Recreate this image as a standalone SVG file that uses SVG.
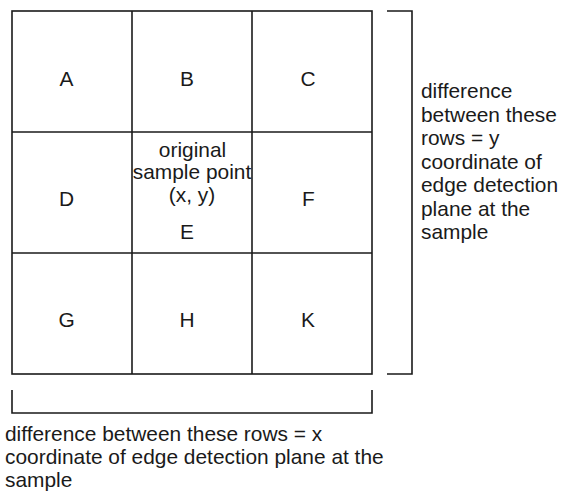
<svg xmlns="http://www.w3.org/2000/svg" width="561" height="494" viewBox="0 0 561 494">
<style>
.ln{fill:none;stroke:#1a1a1a;stroke-width:1.6;}
.t{font-family:"Liberation Sans",Arial,sans-serif;font-size:20.9px;fill:#1a1a1a;}
.m{text-anchor:middle;}
</style>
<rect x="0" y="0" width="561" height="494" fill="#ffffff"/>
<g id="grid">
<rect class="ln" x="12" y="11" width="360" height="363"/>
<line class="ln" x1="132" y1="11" x2="132" y2="374"/>
<line class="ln" x1="252" y1="11" x2="252" y2="374"/>
<line class="ln" x1="12" y1="132" x2="372" y2="132"/>
<line class="ln" x1="12" y1="253" x2="372" y2="253"/>
</g>
<g id="cellA"><text class="t m" x="66.5" y="85.5">A</text></g>
<g id="cellB"><text class="t m" x="187" y="85.5">B</text></g>
<g id="cellC"><text class="t m" x="308" y="85.5">C</text></g>
<g id="cellD"><text class="t m" x="66.5" y="206">D</text></g>
<g id="cellE">
<text class="t m" x="192.5" y="156.5">original</text>
<text class="t m" x="192" y="179.3">sample point</text>
<text class="t m" x="192" y="201.7">(x, y)</text>
<text class="t m" x="187" y="239">E</text>
</g>
<g id="cellF"><text class="t m" x="308.5" y="206">F</text></g>
<g id="cellG"><text class="t m" x="66.5" y="327">G</text></g>
<g id="cellH"><text class="t m" x="187" y="327">H</text></g>
<g id="cellK"><text class="t m" x="308" y="327">K</text></g>
<g id="connectors">
<path class="ln" d="M387,11 H412 V374 H387"/>
<path class="ln" d="M12,390 V413 H372 V390"/>
</g>
<g id="labelY">
<text class="t" x="421" y="98">difference</text>
<text class="t" x="421" y="121.5">between these</text>
<text class="t" x="421" y="145">rows = y</text>
<text class="t" x="421" y="168.5">coordinate of</text>
<text class="t" x="421" y="192">edge detection</text>
<text class="t" x="421" y="215.5">plane at the</text>
<text class="t" x="421" y="239">sample</text>
</g>
<g id="labelX">
<text class="t" x="5" y="440.7">difference between these rows = x</text>
<text class="t" x="5" y="464">coordinate of edge detection plane at the</text>
<text class="t" x="5" y="487">sample</text>
</g>
</svg>
